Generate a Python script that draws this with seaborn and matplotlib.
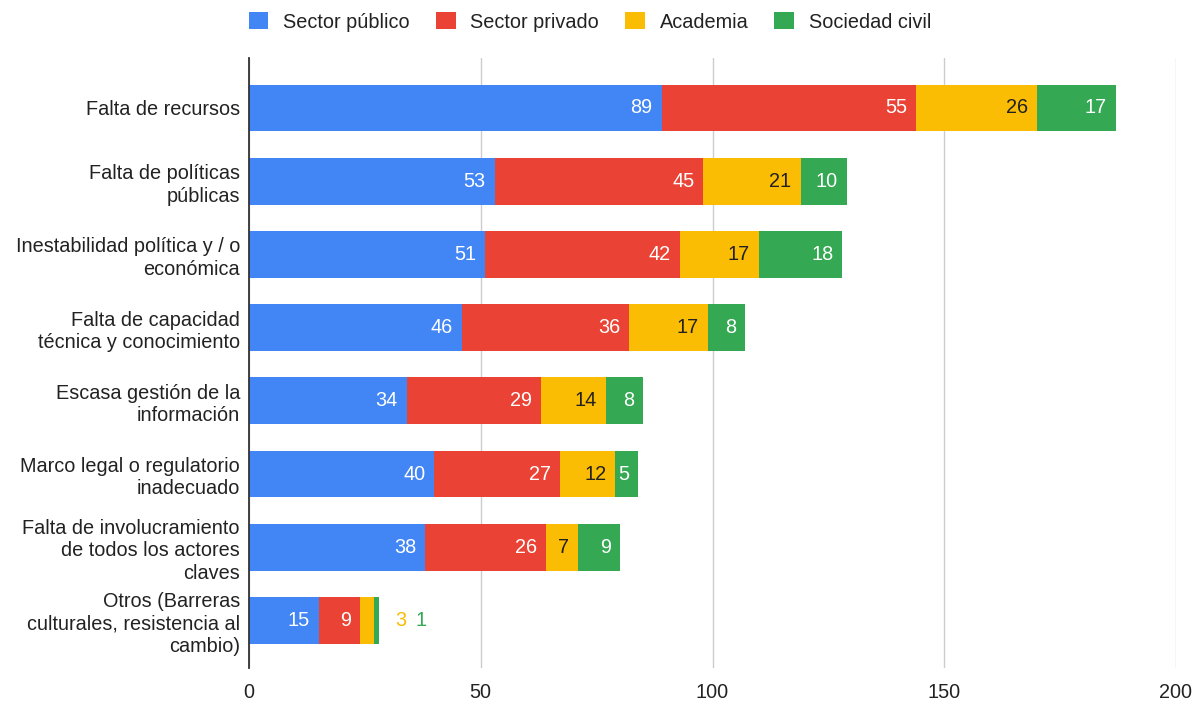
import numpy as np
import pandas as pd
import matplotlib
matplotlib.use("Agg")
import matplotlib.pyplot as plt
import seaborn as sns

categories = [
    "Falta de recursos",
    "Falta de políticas\npúblicas",
    "Inestabilidad política y / o\neconómica",
    "Falta de capacidad\ntécnica y conocimiento",
    "Escasa gestión de la\ninformación",
    "Marco legal o regulatorio\ninadecuado",
    "Falta de involucramiento\nde todos los actores\nclaves",
    "Otros (Barreras\nculturales, resistencia al\ncambio)",
]
series_names = ["Sector público", "Sector privado", "Academia", "Sociedad civil"]
sector_publico = [89, 53, 51, 46, 34, 40, 38, 15]
sector_privado = [55, 45, 42, 36, 29, 27, 26, 9]
academia = [26, 21, 17, 17, 14, 12, 7, 3]
sociedad_civil = [17, 10, 18, 8, 8, 5, 9, 1]
x_ticks = [0, 50, 100, 150, 200]

colors = ["#4285F4", "#EA4335", "#FBBC04", "#34A853"]
label_colors = ["white", "white", "#212121", "white"]
FS = 14.3

sns.set_theme(style="white")
plt.rcParams["font.family"] = ["Liberation Sans", "DejaVu Sans"]

values = np.array([sector_publico, sector_privado, academia, sociedad_civil], dtype=float)
cum = np.cumsum(values, axis=0)

df = pd.DataFrame({"categoria": categories})
for name, c in zip(series_names, cum):
    df[name] = c

fig = plt.figure(figsize=(12.01, 7.02), dpi=100)
ax = fig.add_axes([249 / 1201, 1 - 668 / 702, (1176 - 249) / 1201, (668 - 58) / 702])

# stacked bars: draw cumulative totals from the outermost layer inwards
for k in range(len(series_names) - 1, -1, -1):
    sns.barplot(data=df, x=series_names[k], y="categoria", orient="h",
                color=colors[k], width=0.64, saturation=1, ax=ax,
                linewidth=0, zorder=3)

ax.set_xlim(0, 200)
ax.set_ylim(7.65, -0.683)
ax.set_xticks(x_ticks)
ax.set_xticklabels([str(t) for t in x_ticks])
ax.set_xlabel("")
ax.set_ylabel("")
ax.xaxis.grid(True, color="#cccccc", linewidth=1, zorder=0)
ax.yaxis.grid(False)
for side in ["top", "right", "bottom"]:
    ax.spines[side].set_visible(False)
ax.spines["left"].set_color("#333333")
ax.spines["left"].set_linewidth(1.3)
ax.spines["left"].set_zorder(5)
ax.tick_params(axis="x", length=0, pad=11, labelsize=FS, labelcolor="#222222")
ax.tick_params(axis="y", length=0, pad=6.5, labelsize=FS, labelcolor="#222222")
for t in ax.get_yticklabels():
    t.set_linespacing(1.22)

# value labels at the right end of each segment
for k in range(len(series_names)):
    for i in range(len(categories)):
        v = values[k, i]
        end = cum[k, i]
        if v * 4.635 < 22:
            continue
        ax.annotate(f"{int(v)}", (end, i), xytext=(-9, 0), textcoords="offset pixels",
                    ha="right", va="center", fontsize=FS, color=label_colors[k], zorder=6)

# labels for segments too narrow to hold text, placed after the bar
outside = [(k, i) for k in range(len(series_names)) for i in range(len(categories))
           if values[k, i] * 4.635 < 22]
offsets = {}
for k, i in outside:
    n = offsets.get(i, 0)
    ax.annotate(f"{int(values[k, i])}", (cum[-1, i], i), xytext=(16 + 21 * n, 0),
                textcoords="offset pixels", ha="left", va="center", fontsize=FS,
                color=colors[k], zorder=6)
    offsets[i] = n + 1

handles = [plt.Rectangle((0, 0), 1, 1, facecolor=c, edgecolor="none") for c in colors]
fig.legend(handles, series_names, loc="center", bbox_to_anchor=(590 / 1201, 1 - 22 / 702),
           ncol=4, frameon=False, fontsize=FS, handlelength=1.0, handleheight=0.95,
           handletextpad=0.75, columnspacing=1.3, labelcolor="#222222")

fig.savefig("out.png", dpi=100)
